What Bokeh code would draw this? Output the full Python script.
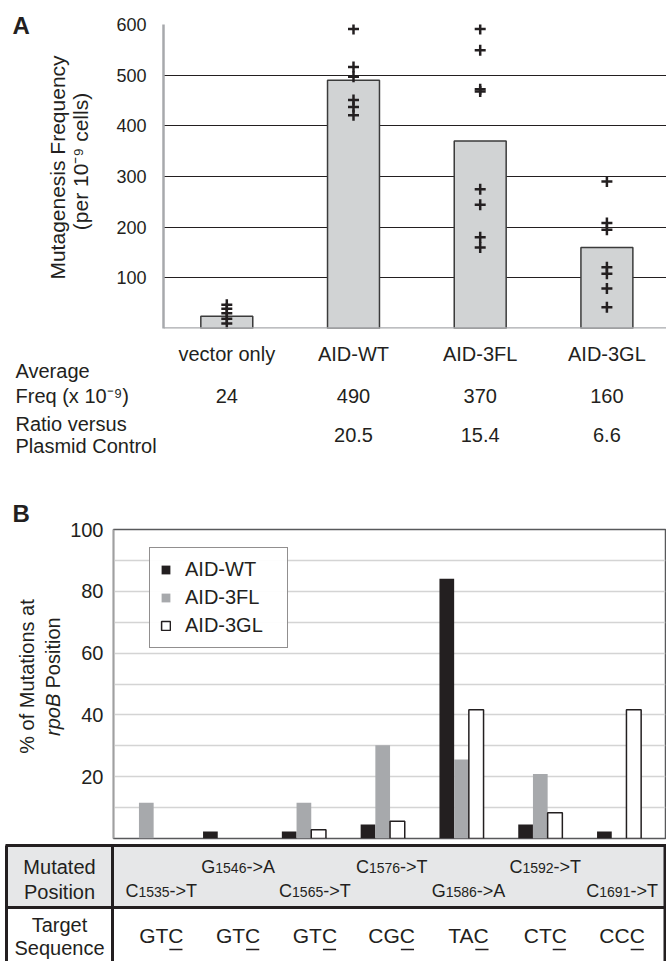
import math
from bokeh.plotting import figure
from bokeh.models import Range1d, FixedTicker, ColumnDataSource, Span, Legend, LegendItem
from bokeh.layouts import column, row
from bokeh.embed import file_html
from bokeh.resources import INLINE
from bokeh.core.properties import value
from bokeh.transform import dodge

FONT = "Liberation Sans"
INK = "#231f20"

# ---------------- Panel A data ----------------
categories = ["vector only", "AID-WT", "AID-3FL", "AID-3GL"]
avg_freq = [24, 490, 370, 160]
avg_labels = ["24", "490", "370", "160"]
ratio_labels = ["", "20.5", "15.4", "6.6"]
pts_vector = [47, 39, 30, 19, 10]
pts_wt = [591, 516, 497, 451, 437, 421]
pts_3fl = [591, 549, 472, 468, 275, 244, 180, 160]
pts_3gl = [290, 208, 195, 121, 108, 79, 42]
yticks_a = [100, 200, 300, 400, 500, 600]

# ---------------- Panel B data ----------------
mut_from = ["C", "G", "C", "C", "G", "C", "C"]
mut_pos = ["1535", "1546", "1565", "1576", "1586", "1592", "1691"]
mut_to = ["T", "A", "T", "T", "A", "T", "T"]
target_seq = ["GTC", "GTC", "GTC", "CGC", "TAC", "CTC", "CCC"]
series = ["AID-WT", "AID-3FL", "AID-3GL"]
pct_wt = [0, 2.3, 2.3, 4.5, 84.1, 4.5, 2.3]
pct_3fl = [11.6, 0, 11.6, 30.2, 25.6, 20.9, 0]
pct_3gl = [0, 0, 2.8, 5.6, 41.7, 8.3, 41.7]
yticks_b = [20, 40, 60, 80, 100]
ygrid_b = [10, 20, 30, 40, 50, 60, 70, 80, 90]

# ---------------- layout helpers (page pixel -> data) ----------------
W = 666
A_C0, A_U = 226.3, 126.7          # centre of first category, px per category
A_TOP, A_BOT = 24, 328
def a_x(px): return (px - A_C0) / A_U

B_G1, B_U = 145.8, 78.8
B_TOP, B_BOT = 529, 838
def b_x(px): return 1 + (px - B_G1) / B_U

# Arial-compatible advance widths (em)
AW = {"A": .667, "C": .722, "G": .778, "T": .611, "-": .333, ">": .584}
for d in "0123456789":
    AW[d] = .556

def base_fig(width, height, **kw):
    p = figure(width=width, height=height, output_backend="svg", toolbar_location=None,
               title=None, **kw)
    p.frame_align = False
    p.outline_line_color = None
    p.background_fill_color = "white"
    p.border_fill_color = "white"
    return p

def text_fig(width, height, x_range, y_range):
    p = base_fig(width, height, x_range=x_range, y_range=y_range,
                 x_axis_type=None, y_axis_type=None, min_border=0)
    p.xgrid.visible = False
    p.ygrid.visible = False
    return p

tkw = dict(text_font=value(FONT), text_font_size=value("20px"), text_color=INK)
bold = dict(text_font=value(FONT), text_font_size=value("24px"), text_font_style="bold", text_color=INK)

# ================= A: left labels =================
AH = 336
pAL = text_fig(100, AH, Range1d(0, 100), Range1d(0, AH))
pAL.text(x=[12], y=[AH - 25], text=["A"], text_align="left", text_baseline="middle", **bold)
pAL.text(x=[56.5, 79.5], y=[AH - 167, AH - 161],
         text=["Mutagenesis Frequency", "(per 10\u207b\u2079 cells)"],
         angle=math.pi / 2, text_align="center", text_baseline="middle",
         text_font=value(FONT), text_font_size=value("21px"), text_color=INK)

# ================= A: bar chart =================
pA = base_fig(566, AH, x_range=Range1d(a_x(163), a_x(666)), y_range=Range1d(0, 600),
              x_axis_type=None, min_border_left=63, min_border_right=0,
              min_border_top=A_TOP, min_border_bottom=AH - A_BOT)
pA.yaxis.ticker = FixedTicker(ticks=yticks_a)
pA.ygrid.ticker = FixedTicker(ticks=yticks_a)
pA.ygrid.grid_line_color = INK
pA.ygrid.grid_line_width = 1
pA.xgrid.visible = False
ax = pA.yaxis[0]
ax.axis_line_color = "#a7a9ac"
ax.axis_line_width = 2.5
ax.major_tick_out = 0
ax.major_tick_in = 0
ax.minor_tick_out = 0
ax.minor_tick_in = 0
ax.major_label_standoff = 17
ax.major_label_text_font = FONT
ax.major_label_text_font_size = "18px"
ax.major_label_text_color = INK

cat_x = list(range(len(categories)))
pA.vbar(x=cat_x, top=avg_freq, bottom=0, width=0.41, fill_color="#d1d3d4",
        line_color="#3b3b3b", line_width=1.5)
for i, pts in enumerate([pts_vector, pts_wt, pts_3fl, pts_3gl]):
    pA.scatter(x=[cat_x[i]] * len(pts), y=pts, marker="cross", size=11,
               line_color=INK, line_width=2.5)
pA.add_layout(Span(location=0, dimension="width", line_color="#a7a9ac", line_width=2.5))

# ================= A2: rows under panel A =================
A2_TOP, A2_BOT = 336, 500
pA2 = text_fig(W, A2_BOT - A2_TOP, Range1d(a_x(0), a_x(666)), Range1d(A2_BOT, A2_TOP))
pA2.text(x=cat_x, y=[353] * 4, text=categories, text_align="center", text_baseline="middle", **tkw)
pA2.text(x=cat_x, y=[395] * 4, text=avg_labels, text_align="center", text_baseline="middle", **tkw)
pA2.text(x=cat_x, y=[434] * 4, text=ratio_labels, text_align="center", text_baseline="middle", **tkw)
row_heads = ["Average", "Freq (x 10\u207b\u2079)", "Ratio versus", "Plasmid Control"]
pA2.text(x=[a_x(15)] * 4, y=[370, 395, 423, 445], text=row_heads, text_align="left",
         text_baseline="middle", **tkw)

# ================= B: left labels =================
B1_TOP, B1_BOT = 500, 842
BH = B1_BOT - B1_TOP
def bly(py): return B1_BOT - py
pBL = text_fig(66, BH, Range1d(0, 66), Range1d(0, BH))
pBL.text(x=[12], y=[bly(512.5)], text=["B"], text_align="left", text_baseline="middle", **bold)
pBL.text(x=[26], y=[bly(676)], text=["% of Mutations at"], angle=math.pi / 2,
         text_align="center", text_baseline="middle", **tkw)
pBL.text(x=[52], y=[bly(735.5)], text=["rpoB"], angle=math.pi / 2, text_align="left",
         text_baseline="middle", text_font=value(FONT), text_font_size=value("20px"),
         text_font_style="italic", text_color=INK)
pBL.text(x=[52], y=[bly(688)], text=["Position"], angle=math.pi / 2, text_align="left",
         text_baseline="middle", **tkw)

# ================= B: grouped bar chart =================
pB = base_fig(600, BH, x_range=Range1d(b_x(113), b_x(665)), y_range=Range1d(0, 100),
              x_axis_type=None, min_border_left=113 - 66, min_border_right=1,
              min_border_top=B_TOP - B1_TOP, min_border_bottom=B1_BOT - B_BOT)
pB.outline_line_color = "#58595b"
pB.outline_line_width = 1.5
pB.xgrid.visible = False
pB.yaxis.ticker = FixedTicker(ticks=yticks_b)
pB.ygrid.ticker = FixedTicker(ticks=ygrid_b)
pB.ygrid.grid_line_color = "#d4d4d4"
pB.ygrid.grid_line_width = 1.5
bx = pB.yaxis[0]
bx.axis_line_color = "#a0a0a0"
bx.axis_line_width = 1.5
bx.major_tick_out = 0
bx.major_tick_in = 0
bx.minor_tick_out = 0
bx.minor_tick_in = 0
bx.major_label_standoff = 10
bx.major_label_text_font = FONT
bx.major_label_text_font_size = "20px"
bx.major_label_text_color = INK

grp_x = list(range(1, len(mut_pos) + 1))
bw = 14.7 / B_U
styles = [
    (pct_wt, -bw, dict(fill_color=INK, line_color=None)),
    (pct_3fl, 0.0, dict(fill_color="#a7a9ac", line_color=None)),
    (pct_3gl, bw, dict(fill_color="white", line_color=INK, line_width=1.5)),
]
items = []
for name, (vals, off, st) in zip(series, styles):
    xs = [g for g, v in zip(grp_x, vals) if v > 0]
    vs = [v for v in vals if v > 0]
    src = ColumnDataSource(dict(x=xs, top=vs))
    r = pB.vbar(x=dodge("x", off, range=pB.x_range), top="top", bottom=0, width=bw, source=src, **st)
    items.append(LegendItem(label=name, renderers=[r]))
leg = Legend(items=items, location=(36, 190))
leg.border_line_color = INK
leg.border_line_width = 1
leg.background_fill_color = "white"
leg.label_text_font = FONT
leg.label_text_font_size = "20px"
leg.label_text_color = INK
leg.glyph_width = 11
leg.glyph_height = 11
leg.label_height = 20
leg.label_width = 92
leg.label_standoff = 14
leg.spacing = 5
leg.padding = 10
leg.margin = 0
pB.add_layout(leg)

# ================= B2: table =================
T_TOP, T_BOT = 842, 961
pT = text_fig(W, T_BOT - T_TOP, Range1d(b_x(0), b_x(666)), Range1d(T_BOT, T_TOP))
pT.quad(left=[b_x(6)], right=[b_x(665)], top=[845], bottom=[907], fill_color="#e6e7e8", line_color=None)
lx0 = [b_x(5), b_x(5), b_x(6), b_x(112), b_x(664.5)]
lx1 = [b_x(666), b_x(666), b_x(6), b_x(112), b_x(664.5)]
ly0 = [845, 907, 845, 845, 845]
ly1 = [845, 907, 961, 961, 961]
pT.segment(x0=lx0, y0=ly0, x1=lx1, y1=ly1, line_color=INK, line_width=3)

pT.text(x=[b_x(59)] * 4, y=[866, 891, 924, 947], text=["Mutated", "Position", "Target", "Sequence"],
        text_align="center", text_baseline="middle", **tkw)

BIG, SMALL, SEQ = 18, 14, 21
big_x, big_off, big_y, big_t = [], [], [], []
sm_x, sm_off, sm_y, sm_t = [], [], [], []
seq_off, ul_x0, ul_x1 = [], [], []
for i, g in enumerate(grp_x):
    off = 15 - 2 * i
    w1 = AW[mut_from[i]] * BIG
    w2 = sum(AW[c] for c in mut_pos[i]) * SMALL
    w3 = (AW["-"] + AW[">"] + AW[mut_to[i]]) * BIG
    left = off - (w1 + w2 + w3) / 2
    yc = 866 if i % 2 == 1 else 890
    big_x += [g, g]; big_off += [left, left + w1 + w2]; big_y += [yc, yc]
    big_t += [mut_from[i], "->" + mut_to[i]]
    sm_x.append(g); sm_off.append(left + w1); sm_y.append(yc + 1.5); sm_t.append(mut_pos[i])
    tw = sum(AW[c] for c in target_seq[i]) * SEQ
    wl = AW[target_seq[i][-1]] * SEQ
    seq_off.append(off)
    ul_x0.append(g + (off + tw / 2 - wl + 1) / B_U)
    ul_x1.append(g + (off + tw / 2 - 1) / B_U)

pT.text(x=big_x, y=big_y, text=big_t, x_offset=big_off, text_align="left", text_baseline="middle",
        text_font=value(FONT), text_font_size=value(f"{BIG}px"), text_color=INK)
pT.text(x=sm_x, y=sm_y, text=sm_t, x_offset=sm_off, text_align="left", text_baseline="middle",
        text_font=value(FONT), text_font_size=value(f"{SMALL}px"), text_color=INK)
pT.text(x=grp_x, y=[935] * len(grp_x), text=target_seq, x_offset=seq_off, text_align="center",
        text_baseline="middle", text_font=value(FONT), text_font_size=value(f"{SEQ}px"), text_color=INK)
pT.segment(x0=ul_x0, y0=[949] * 7, x1=ul_x1, y1=[949] * 7, line_color=INK, line_width=1.5)

layout = column(row(pAL, pA, spacing=0), pA2, row(pBL, pB, spacing=0), pT, spacing=0)
open("out.html", "w").write(file_html(layout, INLINE))
